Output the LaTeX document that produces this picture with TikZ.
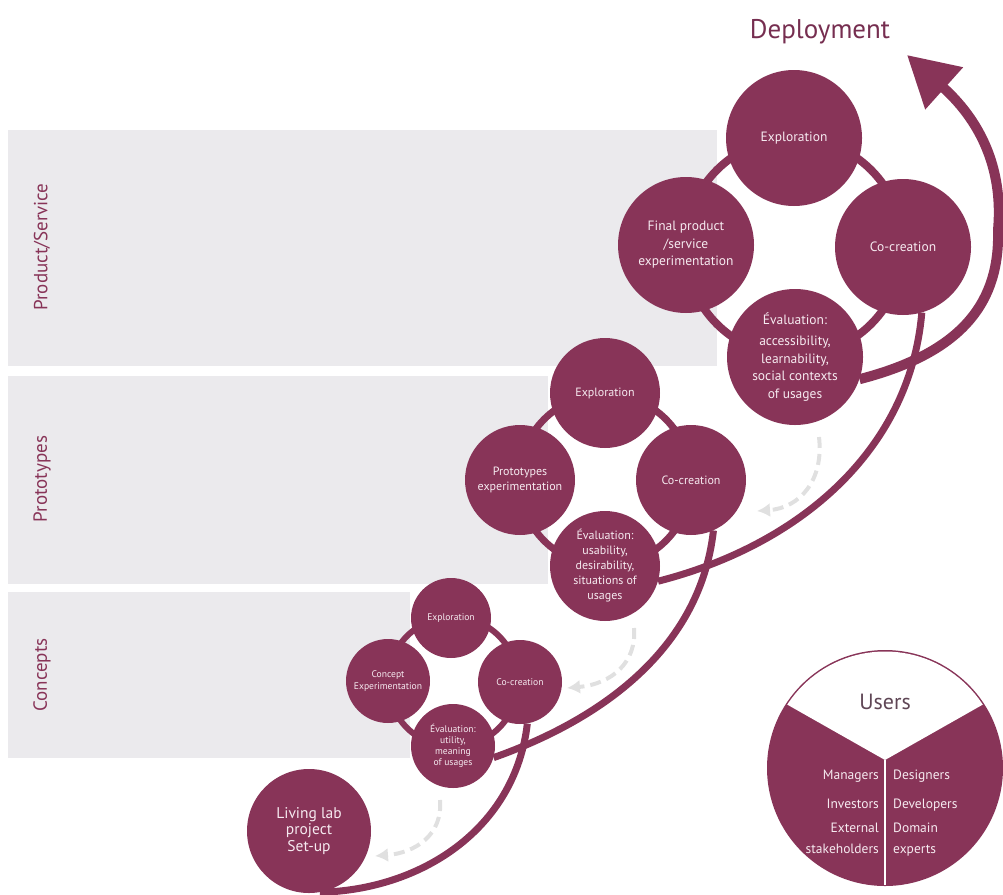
\documentclass[tikz,border=0pt]{standalone}
\usepackage{fontspec}
\setmainfont{PT Sans}
\usetikzlibrary{arrows.meta}
\definecolor{plum}{RGB}{136,52,88}
\definecolor{deptext}{RGB}{118,46,80}
\definecolor{bandgray}{RGB}{235,234,237}
\definecolor{ctext}{RGB}{246,234,240}
\definecolor{dashgray}{RGB}{224,224,224}
\definecolor{usertext}{RGB}{95,70,85}
\pgfdeclarelayer{bandlayer}
\pgfdeclarelayer{linklayer}
\pgfsetlayers{bandlayer,linklayer,main}
\begin{document}
\begin{tikzpicture}[x=1pt,y=-1pt,
  bubble/.style={circle,fill=plum,text=ctext,inner sep=0pt,align=center},
  bubthree/.style={bubble,minimum size=136pt,font=\fontsize{13.5}{17.5}\selectfont},
  bubtwo/.style={bubble,minimum size=110pt,font=\fontsize{12}{15}\selectfont},
  bubone/.style={bubble,minimum size=84pt,font=\fontsize{9.6}{11.2}\selectfont},
  ringnode/.style={circle,draw=plum,inner sep=0pt},
  spiral/.style={draw=plum,line width=7pt},
  backarrow/.style={draw=dashgray,line width=4pt,dash pattern=on 11pt off 6pt,
     -{Latex[length=13pt,width=14pt]}},
  bandlabel/.style={text=plum,rotate=90,font=\fontsize{19}{19}\selectfont},
  usercell/.style={text=ctext,font=\fontsize{13.5}{15}\selectfont,inner sep=0pt},
]
\path[use as bounding box] (0,0) rectangle (1003,894);

% bands
\begin{pgfonlayer}{bandlayer}
\fill[bandgray] (8,130) rectangle (717,366);
\fill[bandgray] (8,376) rectangle (548,584);
\fill[bandgray] (8,592) rectangle (410,758);
\end{pgfonlayer}
\node[bandlabel] (lps) at (42,247) {Product/Service};
\node[bandlabel] (lpr) at (42,479) {Prototypes};
\node[bandlabel] (lco) at (42,675) {Concepts};

% cluster 3
\node[bubthree] (t3exp) at (794,138) {Exploration};
\node[bubthree] (t3fin) at (686,245) {Final product\\/service\\experimentation};
\node[bubthree] (t3coc) at (903,247) {Co-creation};
\node[bubthree] (t3eva) at (795,357) {Évaluation:\\[4pt]accessibility,\\learnability,\\social contexts\\of usages};
% cluster 2
\node[bubtwo] (p2exp) at (605,393) {Exploration};
\node[bubtwo] (p2pro) at (520,480) {Prototypes\\experimentation};
\node[bubtwo] (p2coc) at (691,480) {Co-creation};
\node[bubtwo] (p2eva) at (605,566) {\raisebox{-6pt}{\begin{tabular}{@{}c@{}}Évaluation:\\usability,\\desirability,\\situations of\\usages\end{tabular}}};
% cluster 1
\node[bubone,minimum size=80pt] (c1exp) at (451,618) {Exploration};
\node[bubone] (c1con) at (388,681) {Concept\\Experimentation};
\node[bubone] (c1coc) at (520,682) {Co-creation};
\node[bubone] (c1eva) at (453,746) {Évaluation:\\utility,\\meaning\\of usages};
% living lab
\node[bubble,minimum size=124pt,font=\fontsize{15.5}{16.5}\selectfont] (ll) at (309,831) {Living lab\\project\\Set-up};

\coordinate (dep) at (907,55);

% rings and spiral connectors behind the circles
\begin{pgfonlayer}{linklayer}
\node[ringnode,line width=8pt,minimum size=218pt] (ring3) at (794,247) {};
\node[ringnode,line width=7pt,minimum size=172pt] (ring2) at (605,480) {};
\node[ringnode,line width=6pt,minimum size=130pt] (ring1) at (453,682) {};
\path[spiral] (ll.-80) .. controls (420,890) and (515,830) .. (c1coc.-80);
\path[spiral] (c1eva.-16) .. controls (600,720) and (700,650) .. (p2coc.-66);
\path[spiral] (p2eva.-16) .. controls (800,545) and (910,450) .. (t3coc.-74);
\draw[plum,line width=10pt,-{Triangle[length=50pt,width=54pt]}]
  (t3eva.-19) .. controls (965,352) and (1000,300) .. (998,230)
  .. controls (1003,175) and (985,125) .. (dep);
\end{pgfonlayer}

% dashed return arrows
\coordinate (a1) at (819,437);
\coordinate (a2) at (757,511);
\coordinate (b1) at (634,628);
\coordinate (b2) at (567,688);
\coordinate (e1) at (440,800);
\coordinate (e2) at (375,856);
\draw[backarrow] (a1) .. controls (824,480) and (800,508) .. (a2);
\draw[backarrow] (b1) .. controls (637,662) and (612,684) .. (b2);
\draw[backarrow] (e1) .. controls (443,835) and (415,853) .. (e2);

% users
\node[circle,fill=plum,inner sep=0pt,minimum size=236pt] (users) at (885,768) {};
\coordinate (uv) at (885,760);
\begin{scope}
  \clip (users.center) circle[radius=116.5];
  \fill[white] (735,675) -- (uv) -- (1035,675) -- (1035,630) -- (735,630) -- cycle;
\end{scope}
\draw[white,line width=1.5pt] (uv) -- (885,885);
\node[text=usertext,font=\fontsize{22}{22}\selectfont] (ut) at (885,702) {Users};
\node[usercell,anchor=base east] (um) at (879,779) {Managers};
\node[usercell,anchor=base east] (ui) at (879,808) {Investors};
\node[usercell,anchor=base east] (ue) at (879,832) {External};
\node[usercell,anchor=base east] (us) at (879,853) {stakeholders};
\node[usercell,anchor=base west] (ud) at (893,779) {Designers};
\node[usercell,anchor=base west] (udv) at (893,808) {Developers};
\node[usercell,anchor=base west] (udo) at (893,832) {Domain};
\node[usercell,anchor=base west] (ux) at (893,853) {experts};

% title
\node[text=deptext,font=\fontsize{27}{27}\selectfont] (dtitle) at (820,32) {Deployment};
\end{tikzpicture}
\end{document}
